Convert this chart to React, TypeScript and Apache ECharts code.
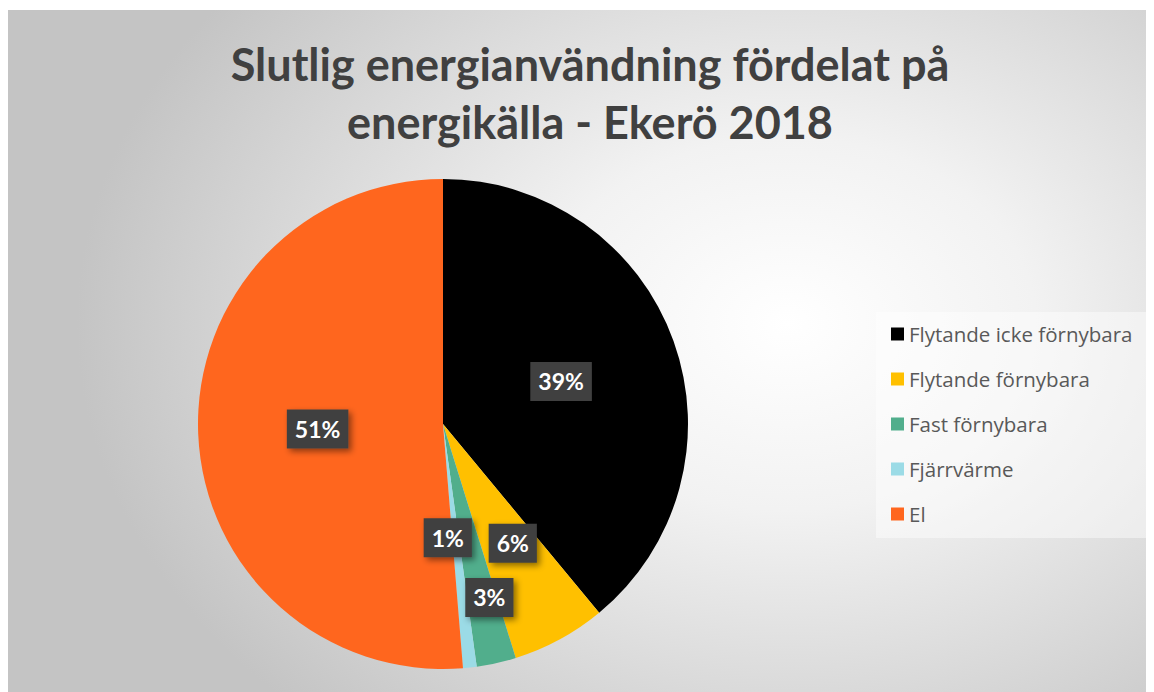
import React, { useEffect, useRef } from "react";
import * as echarts from "echarts";

const categories = ["Flytande icke förnybara", "Flytande förnybara", "Fast förnybara", "Fjärrvärme", "El"];
const values = [39.0, 6.2, 2.6, 0.9, 51.3];
const colors = ["#000000", "#FFC000", "#51AE8C", "#9BDBE6", "#FF661E"];
const labelShift = [
  [0, 0],
  [10, 9],
  [19, 51],
  [-9, -11],
  [0, 0],
];
const titleText = "Slutlig energianvändning fördelat på\nenergikälla - Ekerö 2018";

export default function App() {
  const ref = useRef<HTMLDivElement>(null);
  useEffect(() => {
    if (!ref.current) return;
    const chart = echarts.init(ref.current, undefined, { renderer: "svg" });
    const total = values.reduce((a, b) => a + b, 0);
    chart.setOption({
      animation: false,
      title: {
        text: titleText,
        left: 577,
        textAlign: "center",
        top: 20,
        textStyle: {
          fontFamily: "Lato",
          fontWeight: "bold",
          fontSize: 45,
          lineHeight: 58,
          color: "#404040",
        },
      },
      graphic: [
        {
          type: "rect",
          left: 868,
          top: 302,
          shape: { width: 272, height: 226 },
          style: { fill: "rgba(255,255,255,0.45)" },
          z: -1,
        },
      ],
      legend: {
        orient: "vertical",
        left: 878,
        top: 307,
        icon: "rect",
        itemWidth: 13,
        itemHeight: 13,
        itemGap: 21,
        itemStyle: { borderWidth: 0 },
        textStyle: { fontFamily: "Open Sans", fontSize: 20.5, color: "#595959", lineHeight: 24 },
        data: categories,
      },
      series: [
        {
          type: "pie",
          center: [435, 414],
          radius: [0, 245],
          startAngle: 90,
          clockwise: true,
          data: categories.map((c, i) => ({ name: c, value: values[i], itemStyle: { color: colors[i] } })),
          label: {
            show: true,
            position: "inside",
            formatter: (p: any) => Math.round((p.value / total) * 100) + "%",
            fontFamily: "Lato",
            fontWeight: "bold",
            fontSize: 23,
            lineHeight: 23,
            color: "#ffffff",
            backgroundColor: "#404040",
            padding: [8, 8, 8, 8],
            shadowColor: "rgba(0,0,0,0.45)",
            shadowBlur: 6,
            shadowOffsetX: 3,
            shadowOffsetY: 3,
          },
          labelLine: { show: false },
          labelLayout: (p: any) => ({ dx: labelShift[p.dataIndex][0], dy: labelShift[p.dataIndex][1] }),
          emphasis: { disabled: true },
        },
      ],
    });
    return () => chart.dispose();
  }, []);
  return (
    <div
      ref={ref}
      style={{
        width: 1146,
        height: 682,
        marginTop: 2,
        background: "radial-gradient(ellipse 62% 78% at 68% 46%, #ffffff 0%, #f2f2f2 35%, #c4c4c4 100%)",
      }}
    />
  );
}
